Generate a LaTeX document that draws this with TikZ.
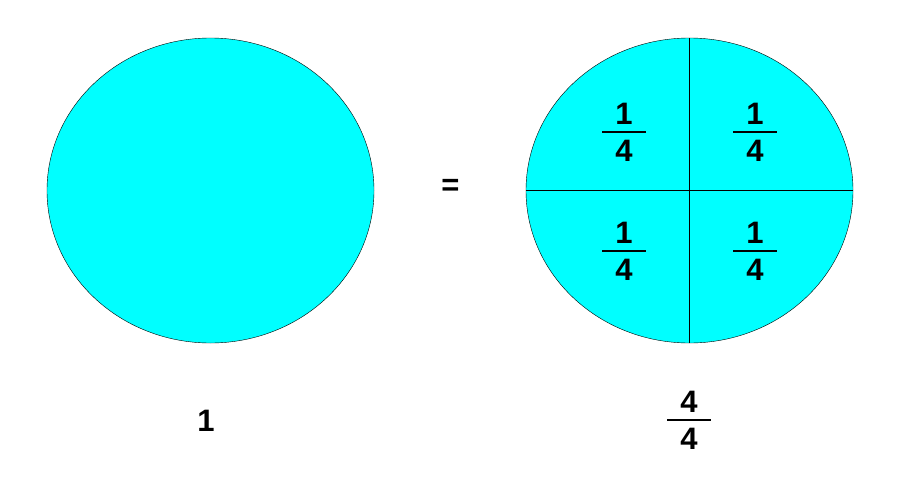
\documentclass[tikz,border=0pt]{standalone}
\usepackage{fontspec}
\setmainfont{Liberation Sans}
\usetikzlibrary{shapes.geometric}

\definecolor{aqua}{RGB}{0,255,255}
\newcommand{\fracstack}[2]{$\vcenter{\hbox to 44pt{\hss#1\hss}\vskip 7pt\hrule height 1.8pt\vskip 7pt\hbox to 44pt{\hss#2\hss}}$}

\begin{document}
\begin{tikzpicture}[x=1pt, y=-1pt, every node/.append style={font=\fontsize{31}{36}\selectfont\bfseries, inner sep=0pt}]
        \useasboundingbox (0,0) rectangle (901,490);
        \node [ellipse, draw, fill=aqua, minimum width=327pt, minimum height=305pt] (L) at (210.5,190.5) {};
        \node [ellipse, draw, fill=aqua, minimum width=327pt, minimum height=305pt] (R) at (689.5,190.5) {};
        \node (Eq) at (450.5,187) {=};

        \draw (R.north) -- (R.south);
        \draw (R.west) -- (R.east);

        \node (Q1) at (624,132) {\fracstack{1}{4}};
        \node (Q2) at (755,132) {\fracstack{1}{4}};
        \node (Q3) at (624,251) {\fracstack{1}{4}};
        \node (Q4) at (755,251) {\fracstack{1}{4}};

        \node (One) at (206,421) {1};
        \node (Whole) at (689,420) {\fracstack{4}{4}};
    \end{tikzpicture}
\end{document}
